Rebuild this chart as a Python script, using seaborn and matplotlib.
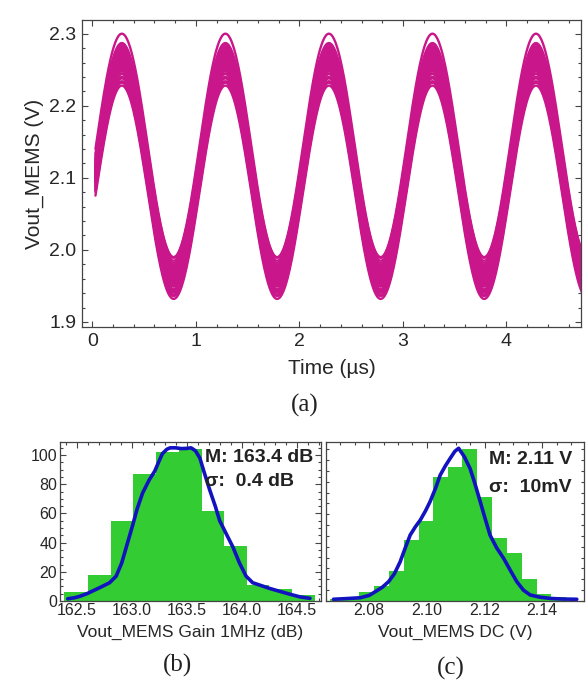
#%% import required libraries
import numpy as np
import pandas as pd
import matplotlib
matplotlib.use("Agg")
import matplotlib.pyplot as plt
from matplotlib.ticker import MultipleLocator, NullFormatter, FormatStrFormatter
import seaborn as sns

##############################################################################
# data
##############################################################################

# (a) transient Monte Carlo runs: 1 MHz tone, per-run DC level and amplitude
tone_freq_mhz = 1.0
tone_delay_us = 0.035
run_dc = [2.110, 2.105, 2.115, 2.100, 2.120, 2.108, 2.112, 2.095, 2.125,
          2.103, 2.117, 2.090, 2.130, 2.107, 2.113, 2.098, 2.122, 2.085,
          2.135, 2.110, 2.102, 2.118, 2.093, 2.127, 2.106, 2.114, 2.080,
          2.145, 2.109, 2.111, 2.132, 2.088, 2.104, 2.116, 2.097, 2.123,
          2.101, 2.119, 2.092, 2.128, 2.109, 2.112, 2.099, 2.121, 2.106,
          2.114, 2.087, 2.138, 2.111, 2.108]
run_amp = [0.150, 0.148, 0.152, 0.151, 0.149, 0.153, 0.147, 0.150, 0.151,
           0.146, 0.154, 0.149, 0.152, 0.150, 0.148, 0.153, 0.151, 0.147,
           0.150, 0.145, 0.152, 0.149, 0.151, 0.148, 0.150, 0.146, 0.148,
           0.155, 0.152, 0.148, 0.150, 0.146, 0.151, 0.149, 0.153, 0.147,
           0.150, 0.152, 0.148, 0.151, 0.154, 0.146, 0.149, 0.150, 0.152,
           0.147, 0.151, 0.149, 0.150, 0.148]

# (b) gain histogram
gain_edges = [162.39, 162.60, 162.81, 163.01, 163.22, 163.43, 163.64,
              163.84, 164.05, 164.25, 164.46, 164.67]
gain_counts = [6, 18, 55, 87, 102, 104, 62, 38, 11, 8, 4]
gain_kde_x = [162.42, 162.48, 162.53, 162.60, 162.65, 162.72, 162.80, 162.86,
              162.91, 162.96, 163.01, 163.05, 163.10, 163.16, 163.21, 163.25,
              163.28, 163.32, 163.35, 163.40, 163.45, 163.50, 163.54, 163.58,
              163.62, 163.66, 163.71, 163.76, 163.80, 163.86, 163.92, 163.98,
              164.04, 164.10, 164.18, 164.25, 164.35, 164.44, 164.53, 164.62]
gain_kde_y = [1.5, 2.2, 3.2, 5.2, 7, 9.5, 12.5, 17, 26, 39, 52, 63, 74, 83, 89,
              96, 101, 104, 105, 105, 104.5, 104.6, 105, 103, 98, 88, 76, 65,
              55, 46, 37, 26, 17, 12.5, 10.5, 8.7, 6.5, 4.6, 2.8, 1.8]
gain_text = ["M: 163.4 dB", "σ:  0.4 dB"]

# (c) DC histogram
dc_edges = [2.0664, 2.0715, 2.0766, 2.0817, 2.0869, 2.0919, 2.0971, 2.1021,
            2.1073, 2.1123, 2.1175, 2.1227, 2.1278, 2.1330, 2.1381, 2.1432,
            2.1484]
dc_counts = [1, 1, 4, 7, 14, 28, 37, 57, 62, 70, 48, 29, 22, 10, 3, 2]
dc_kde_x = [2.0676, 2.0720, 2.0769, 2.0800, 2.0821, 2.0845, 2.0867, 2.0887,
            2.0907, 2.0925, 2.0942, 2.0960, 2.0977, 2.0995, 2.1011, 2.1030,
            2.1046, 2.1065, 2.1081, 2.1097, 2.1110, 2.1130, 2.1150, 2.1168,
            2.1185, 2.1202, 2.1219, 2.1242, 2.1266, 2.1290, 2.1312, 2.1335,
            2.1358, 2.1390, 2.1427, 2.1470, 2.1520]
dc_kde_y = [0.8, 1.1, 1.5, 2.6, 4.3, 6.3, 8.9, 12.5, 18, 24.5, 30.4, 34.2,
            37.3, 41.5, 45.8, 52, 58, 62.5, 65.8, 69, 70.4, 66.5, 61, 53.5,
            45.8, 38, 30.4, 24.5, 19.7, 14, 8.9, 5, 2.8, 1.8, 1.2, 0.9, 0.8]
dc_text = ["M: 2.11 V", "σ:  10mV"]

##############################################################################
# settings
##############################################################################
sns.set_theme(style="white")
plt.rcParams["font.family"] = ["Liberation Sans", "DejaVu Sans"]
plt.rcParams["axes.edgecolor"] = "#444444"
plt.rcParams["axes.linewidth"] = 0.9

wave_color = "#C9168A"
bar_color = "#33CC33"
kde_color = "#1212C0"

W, H = 588, 683
fig = plt.figure(figsize=(W / 100, H / 100), dpi=100)


def px_axes(x0, y0, x1, y1):
    return fig.add_axes([x0 / W, 1 - y1 / H, (x1 - x0) / W, (y1 - y0) / H])


def fig_text(x, y, txt, **kw):
    fig.text(x / W, 1 - y / H, txt, **kw)


def style_ticks(ax, size):
    ax.tick_params(which="both", direction="in", top=True, right=True,
                   bottom=True, left=True, color="#444444", width=0.8)
    ax.tick_params(which="major", length=4.5, labelsize=size, pad=4)
    ax.tick_params(which="minor", length=2.5)


##############################################################################
# (a) transient waveforms
##############################################################################
t = np.linspace(0.03, 4.8, 700)
frames = []
for i, (dc, amp) in enumerate(zip(run_dc, run_amp)):
    frames.append(pd.DataFrame({
        "time": t,
        "vout": dc + amp * np.sin(2 * np.pi * tone_freq_mhz * (t - tone_delay_us)),
        "run": i,
    }))
wave_df = pd.concat(frames, ignore_index=True)

ax_a = px_axes(82, 20, 581, 327)
sns.lineplot(data=wave_df, x="time", y="vout", units="run", estimator=None,
             color=wave_color, linewidth=1.7, ax=ax_a)
ax_a.set_xlim(-0.1, 4.72)
ax_a.set_ylim(1.893, 2.319)
ax_a.xaxis.set_major_locator(MultipleLocator(1))
ax_a.xaxis.set_minor_locator(MultipleLocator(0.2))
ax_a.set_yticks([1.9, 2.0, 2.1, 2.2, 2.3])
ax_a.set_yticklabels(["1.9", "2.0", "2.1", "2.2", "2.3"])
ax_a.yaxis.set_minor_locator(MultipleLocator(0.02))
style_ticks(ax_a, 14)
ax_a.set_xlabel("Time (µs)", fontsize=15, labelpad=7)
ax_a.set_ylabel("Vout_MEMS (V)", fontsize=15, labelpad=4)

##############################################################################
# (b) gain histogram
##############################################################################
gain_centers = [(a + b) / 2 for a, b in zip(gain_edges[:-1], gain_edges[1:])]
ax_b = px_axes(60, 442, 321, 601)
sns.histplot(x=gain_centers, weights=gain_counts, bins=gain_edges,
             color=bar_color, alpha=1, linewidth=0, ax=ax_b)
sns.lineplot(x=gain_kde_x, y=gain_kde_y, color=kde_color, linewidth=2.6,
             sort=False, ax=ax_b)
ax_b.set_xlim(162.35, 164.72)
ax_b.set_ylim(0, 109)
ax_b.xaxis.set_major_locator(MultipleLocator(0.5))
ax_b.xaxis.set_minor_locator(MultipleLocator(0.1))
ax_b.xaxis.set_major_formatter(FormatStrFormatter("%.1f"))
ax_b.yaxis.set_major_locator(MultipleLocator(20))
ax_b.yaxis.set_minor_locator(MultipleLocator(5))
style_ticks(ax_b, 11.5)
ax_b.tick_params(axis="x", pad=1.5)
ax_b.tick_params(axis="y", pad=2)
ax_b.set_xlabel("Vout_MEMS Gain 1MHz (dB)", fontsize=12.5, labelpad=5)
ax_b.set_ylabel("")

##############################################################################
# (c) DC histogram
##############################################################################
dc_centers = [(a + b) / 2 for a, b in zip(dc_edges[:-1], dc_edges[1:])]
ax_c = px_axes(326, 442, 584, 601)
sns.histplot(x=dc_centers, weights=dc_counts, bins=dc_edges,
             color=bar_color, alpha=1, linewidth=0, ax=ax_c)
sns.lineplot(x=dc_kde_x, y=dc_kde_y, color=kde_color, linewidth=2.6,
             sort=False, ax=ax_c)
ax_c.set_xlim(2.065, 2.1545)
ax_c.set_ylim(0, 73.3)
ax_c.set_xticks([2.08, 2.10, 2.12, 2.14])
ax_c.set_xticklabels(["2.08", "2.10", "2.12", "2.14"])
ax_c.xaxis.set_minor_locator(MultipleLocator(0.005))
ax_c.yaxis.set_major_locator(MultipleLocator(5))
ax_c.yaxis.set_major_formatter(NullFormatter())
style_ticks(ax_c, 11.5)
ax_c.tick_params(axis="y", which="major", length=2.5)
ax_c.tick_params(axis="x", pad=1.5)
ax_c.set_xlabel("Vout_MEMS DC (V)", fontsize=12.5, labelpad=5)
ax_c.set_ylabel("")

##############################################################################
# annotations and panel captions
##############################################################################
for k, txt in enumerate(gain_text):
    fig_text(205, 458 + 24 * k, txt, fontsize=14, fontweight="bold",
             va="center", ha="left", color="#222222")
for k, txt in enumerate(dc_text):
    fig_text(489, 460 + 27 * k, txt, fontsize=14, fontweight="bold",
             va="center", ha="left", color="#222222")

for lab, x, y in [("(a)", 305, 405), ("(b)", 178, 665), ("(c)", 451, 668)]:
    fig_text(x, y, lab, family=["Liberation Serif", "DejaVu Serif"],
             fontsize=18, ha="center", va="center", color="#222222")

fig.savefig("out.png", dpi=100)
